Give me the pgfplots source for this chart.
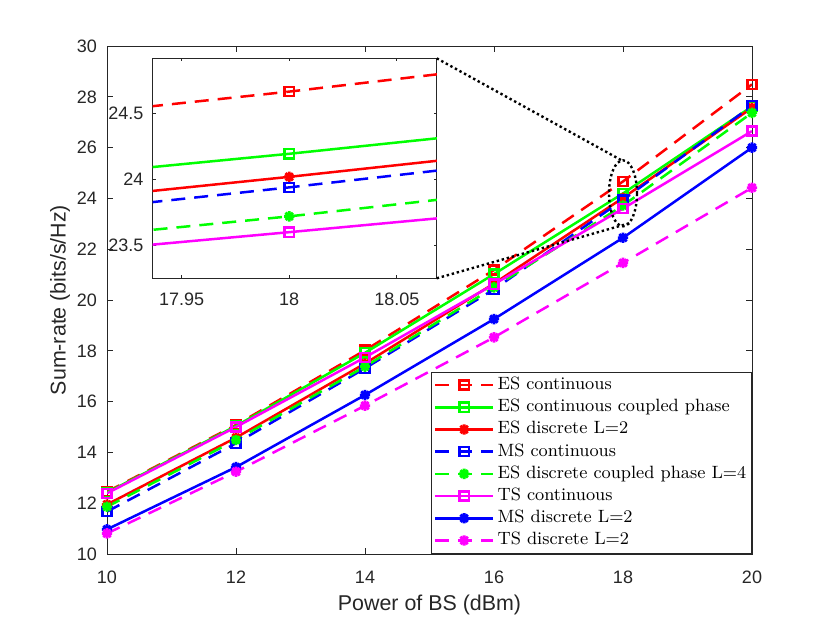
\documentclass[border=0pt]{standalone}
\usepackage{fontspec}
\usepackage{pgfplots}
\usepackage{pgfplotstable}
\pgfplotsset{compat=1.18}
\newfontfamily\arial{Liberation Sans}
\definecolor{axgray}{gray}{0.15}
\definecolor{mred}{rgb}{1,0,0}
\definecolor{mgreen}{rgb}{0,1,0}
\definecolor{mblue}{rgb}{0,0,1}
\definecolor{mmag}{rgb}{1,0,1}

\pgfdeclareplotmark{mstar}{%
  \pgfpathmoveto{\pgfqpoint{0pt}{\pgfplotmarksize}}%
  \pgfpathlineto{\pgfqpoint{0pt}{-\pgfplotmarksize}}%
  \pgfpathmoveto{\pgfqpoint{\pgfplotmarksize}{0pt}}%
  \pgfpathlineto{\pgfqpoint{-\pgfplotmarksize}{0pt}}%
  \pgfpathmoveto{\pgfqpoint{0.707\pgfplotmarksize}{0.707\pgfplotmarksize}}%
  \pgfpathlineto{\pgfqpoint{-0.707\pgfplotmarksize}{-0.707\pgfplotmarksize}}%
  \pgfpathmoveto{\pgfqpoint{0.707\pgfplotmarksize}{-0.707\pgfplotmarksize}}%
  \pgfpathlineto{\pgfqpoint{-0.707\pgfplotmarksize}{0.707\pgfplotmarksize}}%
  \pgfusepathqstroke}

\pgfplotstableread{
x esc esp esd msc esdf tsc msd tsd
10 12.45 12.42 11.95 11.67 11.86 12.39 10.97 10.81
12 15.08 15.04 14.58 14.36 14.49 15.00 13.42 13.24
14 18.02 17.92 17.50 17.31 17.38 17.74 16.26 15.84
16 21.18 21.02 20.65 20.42 20.50 20.62 19.25 18.53
18 24.667 24.195 24.02 23.94 23.72 23.60 22.45 21.46
20 28.49 27.62 27.57 27.65 27.37 26.65 26.00 24.42
}\data

\pgfplotsset{
  common/.style={line width=1.25pt, mark options={solid, line width=1.2pt}},
  dsh/.style={dash pattern=on 7pt off 4.5pt},
  sq/.style={mark=square, mark size=2.3pt},
  st/.style={mark=mstar, mark size=2.6pt, mark options={solid, line width=1.4pt}},
  s1/.style={common, mred, dsh, sq},
  s2/.style={common, mgreen, sq},
  s3/.style={common, mred, st},
  s4/.style={common, mblue, dsh, sq},
  s5/.style={common, mgreen, dsh, st},
  s6/.style={common, mmag, sq},
  s7/.style={common, mblue, st},
  s8/.style={common, mmag, dsh, st},
  myax/.style={
    scale only axis,
    tick align=inside,
    axis line style={axgray, line width=0.45pt},
    tick style={axgray, line width=0.45pt},
    ticklabel style={font=\arial\fontsize{9}{10}\selectfont, text=axgray},
    /pgf/number format/assume math mode=true,
  },
}

\begin{document}
\begin{tikzpicture}
\useasboundingbox (0,0) rectangle (415pt,311.5pt);
\begin{axis}[myax,
  width=322.5pt, height=254pt,
  at={(53.5pt,34.5pt)}, anchor=south west,
  xmin=10, xmax=20, ymin=10, ymax=30,
  xtick={10,12,...,20}, ytick={10,12,...,30},
  major tick length=3.2pt,
  xticklabel style={yshift=-5pt},
  yticklabel style={xshift=-1.5pt},
  xlabel={Power of BS (dBm)},
  ylabel={Sum-rate (bits/s/Hz)},
  label style={font=\arial\fontsize{10.7}{12}\selectfont, text=axgray},
  xlabel style={at={(axis description cs:0.5,-0.1004)}, anchor=center},
  ylabel style={at={(axis description cs:-0.0729,0.5)}, anchor=center},
  legend cell align=left,
  legend style={at={(1,0)}, anchor=south east, draw=axgray, line width=0.45pt,
    font=\fontsize{8.9}{11}\selectfont, inner xsep=1pt, inner ysep=1pt,
    row sep=0pt,
    nodes={inner ysep=1.3pt, inner xsep=1.6pt, text height=6.5pt, text depth=2pt}},
  legend image code/.code={\draw[mark repeat=2,mark phase=2,#1] plot coordinates {(0pt,0pt) (14.5pt,0pt) (29pt,0pt)};},
]
\addplot[s1] table[x=x,y=esc]{\data};
\addplot[s2] table[x=x,y=esp]{\data};
\addplot[s3] table[x=x,y=esd]{\data};
\addplot[s4] table[x=x,y=msc]{\data};
\addplot[s5] table[x=x,y=esdf]{\data};
\addplot[s6] table[x=x,y=tsc]{\data};
\addplot[s7] table[x=x,y=msd]{\data};
\addplot[s8] table[x=x,y=tsd]{\data};
\legend{ES continuous, ES continuous coupled phase, ES discrete L=2, MS continuous, ES discrete coupled phase L=4, TS continuous, MS discrete L=2, TS discrete L=2}
\draw[black, line width=1.2pt, dash pattern=on 1.2pt off 1.4pt] (axis cs:18,24.2) ellipse [x radius=7pt, y radius=16.5pt];
\coordinate (e1) at (axis cs:17.97,25.51);
\coordinate (e2) at (axis cs:18.11,23.03);
\end{axis}
\begin{axis}[myax, name=inset,
  width=142.2pt, height=110pt,
  at={(76.15pt,172.35pt)}, anchor=south west,
  axis background/.style={fill=white},
  xmin=17.9365, xmax=18.0686, ymin=23.25, ymax=24.92,
  xtick={17.95,18,18.05}, xticklabels={17.95,18,18.05},
  ytick={23.5,24,24.5}, yticklabels={23.5,24,24.5},
  major tick length=1.5pt,
  xticklabel style={yshift=-4pt},
  yticklabel style={xshift=-1pt},
]
\addplot[s1] table[x=x,y=esc]{\data};
\addplot[s2] table[x=x,y=esp]{\data};
\addplot[s3] table[x=x,y=esd]{\data};
\addplot[s4] table[x=x,y=msc]{\data};
\addplot[s5] table[x=x,y=esdf]{\data};
\addplot[s6] table[x=x,y=tsc]{\data};
\addplot[s7] table[x=x,y=msd]{\data};
\addplot[s8] table[x=x,y=tsd]{\data};
\end{axis}
\draw[black, line width=1.2pt, dash pattern=on 1.2pt off 1.4pt] (inset.north east) -- (e1);
\draw[black, line width=1.2pt, dash pattern=on 1.2pt off 1.4pt] (inset.south east) -- (e2);
\end{tikzpicture}
\end{document}
